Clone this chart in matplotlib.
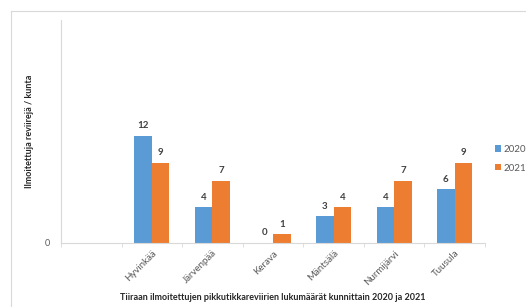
import matplotlib
matplotlib.use("Agg")
import matplotlib.pyplot as plt
import matplotlib.transforms as mtransforms
import numpy as np

categories = ["", "Hyvinkää", "Järvenpää", "Kerava", "Mäntsälä", "Nurmijärvi", "Tuusula"]
values_2020 = [None, 12, 4, 0, 3, 4, 6]
values_2021 = [None, 9, 7, 1, 4, 7, 9]
series_names = ["2020", "2021"]

blue = "#5B9BD5"
orange = "#ED7D31"
plt.rcParams['font.family'] = ['Lato', 'DejaVu Sans']

fig = plt.figure(figsize=(5.26, 3.07), dpi=100)
W, H = 526, 307
ax = fig.add_axes([61 / W, 1 - 243 / H, (485 - 61) / W, (243 - 20) / H])

x = np.arange(len(categories))
bw = 0.29
idx = [i for i, v in enumerate(values_2020) if v is not None]
v20 = [values_2020[i] for i in idx]
v21 = [values_2021[i] for i in idx]
xi = np.array(idx)
b1 = ax.bar(xi - bw / 2, v20, bw, color=blue, label=series_names[0])
b2 = ax.bar(xi + bw / 2, v21, bw, color=orange, label=series_names[1])
for bars, vals in ((b1, v20), (b2, v21)):
    for r, v in zip(bars, vals):
        ax.annotate(str(v), (r.get_x() + r.get_width() / 2, v), xytext=(0, 4),
                    textcoords="offset points", ha="center", va="bottom",
                    fontsize=7, fontweight="bold", color="#404040")

ax.set_xlim(-0.5, len(categories) - 0.5)
ax.set_ylim(0, 25)
ax.set_yticks([0])
ax.set_yticklabels(["0"], fontsize=6.5, color="#595959")
ax.set_xticks(x)
ax.set_xticklabels(categories, rotation=45, ha="right", rotation_mode="anchor",
                   fontsize=7, color="#595959")
off = mtransforms.ScaledTranslation(5 / 100, 0, fig.dpi_scale_trans)
for lab in ax.get_xticklabels():
    lab.set_transform(lab.get_transform() + off)
ax.tick_params(axis="x", length=0, pad=4)
ax.tick_params(axis="y", length=0, pad=8)
ax.set_xticks(np.arange(-0.5, len(categories), 1), minor=True)
ax.tick_params(axis="x", which="minor", length=3, color="#D9D9D9")
for s in ("top", "right"):
    ax.spines[s].set_visible(False)
ax.spines["left"].set_color("#D9D9D9")
ax.spines["bottom"].set_color("#D9D9D9")

fig.text(29 / W, 1 - 131 / H, "Ilmoitettuja reviirejä / kunta", rotation=90,
         ha="center", va="center", fontsize=6.5, fontweight="bold", color="#262626")
fig.text(273 / W, 1 - 298 / H,
         "Tiiraan ilmoitettujen pikkutikkareviirien lukumäärät kunnittain 2020 ja 2021",
         ha="center", va="center", fontsize=6.5, fontweight="bold", color="#262626")

leg = fig.legend(handles=[b1, b2], loc="upper left", bbox_to_anchor=(495 / W, 1 - 145 / H),
                 frameon=False, fontsize=7, handlelength=0.6, handleheight=0.6,
                 handletextpad=0.3, labelspacing=1.0, borderpad=0, borderaxespad=0)
for t in leg.get_texts():
    t.set_color("#595959")

# outer chart border (cropped)
fig.add_artist(plt.Line2D([11 / W, 1], [1 - 11 / H, 1 - 11 / H], color="#D9D9D9", lw=0.8))
fig.add_artist(plt.Line2D([11 / W, 11 / W], [0, 1 - 11 / H], color="#D9D9D9", lw=0.8))

fig.savefig("out.png", dpi=100)
